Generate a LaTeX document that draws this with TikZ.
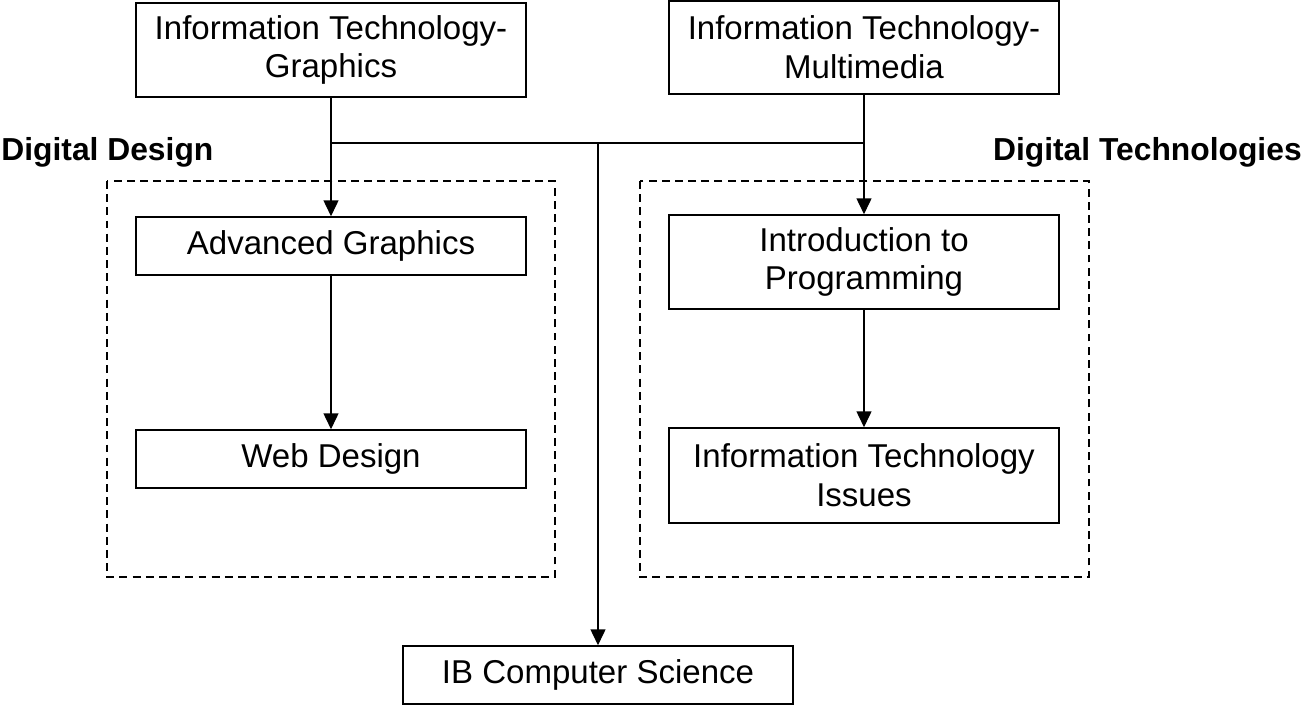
\documentclass[tikz,border=0pt]{standalone}
\usepackage{fontspec}
\setmainfont{Liberation Sans}
\usetikzlibrary{arrows.meta}

\begin{document}
\begin{tikzpicture}
	[x=0.02cm,y=-0.02cm,
	 course/.style={draw,line width=0.9pt,minimum width=7.8cm,align=center,
	   font=\fontsize{18.8pt}{22pt}\selectfont},
	 group/.style={draw,dashed,line width=0.8pt,dash pattern=on 4.5pt off 3pt},
	 grouplabel/.style={inner sep=0pt,font=\fontsize{18.1pt}{22pt}\selectfont\bfseries},
	 link/.style={line width=0.7pt,-{Triangle[length=9pt,width=8.5pt]}}]
	\useasboundingbox (0,0) rectangle (1302,706);

	\node[course, minimum height=1.88cm] (itg) at (331,50) {Information Technology-\\Graphics};
	\node[course, minimum height=1.86cm] (itm) at (864,47.5) {Information Technology-\\Multimedia};
	\node[course, minimum height=1.16cm] (ag) at (331,246) {Advanced Graphics};
	\node[course, minimum height=1.16cm] (wd) at (331,459) {Web Design};
	\node[course, minimum height=1.88cm] (intro) at (864,262) {Introduction to\\Programming};
	\node[course, minimum height=1.9cm] (iti) at (864,475.5) {Information Technology\\Issues};
	\node[course, minimum height=1.16cm] (ibcs) at (598,675) {IB Computer Science};

	\draw[group] (107,181) rectangle (555,577);
	\draw[group] (640,181) rectangle (1089,577);
	\node[grouplabel, anchor=west] (dd) at (1,152) {Digital Design};
	\node[grouplabel, anchor=east] (dt) at (1302,152) {Digital Technologies};

	\coordinate (jl) at (331,143);
	\coordinate (jm) at (598,143);
	\coordinate (jr) at (864,143);
	\draw[line width=0.7pt] (jl) -- (jr);
	\draw[link] (jm) -- (ibcs);
	\foreach \from/\to in {itg/ag,itm/intro,ag/wd,intro/iti}
		\draw[link] (\from) -- (\to);
\end{tikzpicture}
\end{document}
